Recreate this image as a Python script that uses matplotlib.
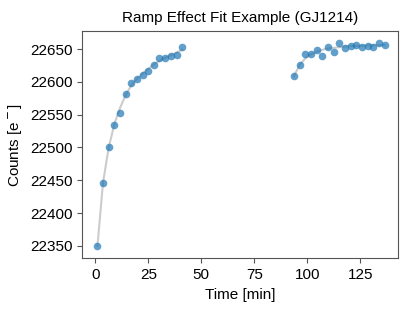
import matplotlib.pyplot as plt

plt.rcParams['font.family'] = ['Liberation Sans', 'DejaVu Sans']

# first visit: time [min] and counts
time_a = [1.0, 3.6, 6.3, 9.0, 11.6, 14.3, 17.0, 19.7, 22.4, 25.0,
          27.7, 30.2, 33.0, 35.7, 38.4, 41.0]
counts_a = [22350, 22446, 22500, 22535, 22553, 22582, 22598, 22605, 22611,
            22617, 22626, 22636, 22637, 22640, 22641, 22653]
fit_a = [22350, 22446, 22500, 22536, 22560, 22580, 22595, 22605, 22613,
         22620, 22627, 22632, 22637, 22641, 22645, 22649]

# second visit
time_b = [93.7, 96.4, 99.1, 101.7, 104.4, 107.1, 109.8, 112.5, 115.1, 117.8,
          120.5, 123.1, 125.8, 128.5, 131.1, 133.8, 136.5]
counts_b = [22609, 22626, 22642, 22642, 22648, 22640, 22653, 22645, 22659,
            22652, 22655, 22656, 22654, 22655, 22654, 22660, 22656]
fit_b = [22609, 22626, 22636, 22642, 22646, 22649, 22651, 22652, 22653,
         22654, 22655, 22655, 22655, 22656, 22656, 22656, 22656]

fig = plt.figure(figsize=(4.15, 3.11), dpi=100)
ax = fig.add_axes([0.1976, 0.1695, 0.7614, 0.7315])

# fit curves first, then the measured points on top
for t, f in [(time_a, fit_a), (time_b, fit_b)]:
    ax.plot(t, f, color='#cccccc', lw=1.5, zorder=1)
for t, c in [(time_a, counts_a), (time_b, counts_b)]:
    ax.plot(t, c, 'o', color='#1f77b4', alpha=0.7, ms=5.5, mew=0, zorder=2)

ax.set_xlim(-6.3, 142.8)
ax.set_ylim(22331, 22678)
ax.set_xticks([0, 25, 50, 75, 100, 125])
ax.set_yticks(range(22350, 22651, 50))

for s in ax.spines.values():
    s.set_color('#555555')
ax.tick_params(colors='#555555', labelcolor='black', labelsize=11)

ax.set_title('Ramp Effect Fit Example (GJ1214)', fontsize=11)
ax.set_xlabel('Time [min]', fontsize=11)
ax.set_ylabel('Counts [e$^-$]', fontsize=11)

fig.savefig('out.png', dpi=100)
